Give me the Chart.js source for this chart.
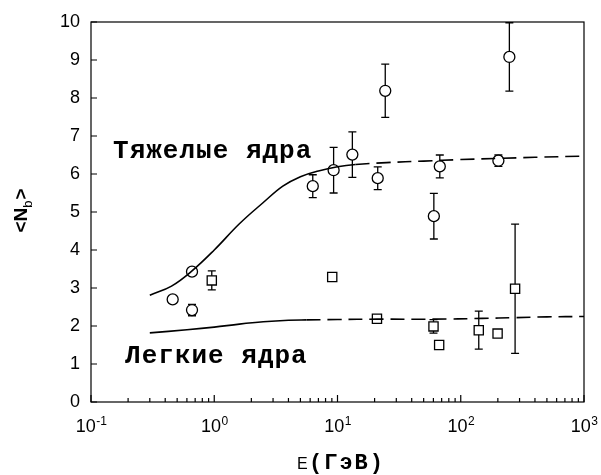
<!DOCTYPE html>
<html>
<head>
<meta charset="utf-8">
<script src="https://cdn.jsdelivr.net/npm/chart.js@4.4.0/dist/chart.umd.min.js"></script>
<style>
  html, body { margin: 0; padding: 0; background: #fff; }
  #wrap { width: 601px; height: 475px; }
</style>
</head>
<body>
<div id="wrap"><canvas id="chart"></canvas></div>
<script>
// Heavy nuclei data (circles)
const heavyE = [0.46, 0.66, 0.66, 6.3, 9.3, 13.2, 21.2, 24.4, 60.5, 67.6, 202, 248];
const heavyN = [2.7, 3.43, 2.42, 5.68, 6.1, 6.51, 5.89, 8.19, 4.89, 6.2, 6.35, 9.08];
const heavyErr = [0, 0, 0.15, 0.3, 0.6, 0.6, 0.3, 0.7, 0.6, 0.3, 0.15, 0.9];

// Light nuclei data (squares)
const lightE = [0.955, 9.06, 20.9, 60.1, 66.8, 140, 199, 276];
const lightN = [3.2, 3.29, 2.19, 1.99, 1.5, 1.89, 1.8, 2.98];
const lightErr = [0.25, 0, 0, 0.18, 0, 0.5, 0, 1.7];

// Model curves
const heavyCurveE = [0.3, 0.45, 0.66, 1.0, 1.6, 2.5, 3.6, 5.0, 7, 10, 14, 25, 50, 100, 200, 400, 1000];
const heavyCurveN = [2.81, 3.05, 3.45, 4.0, 4.69, 5.25, 5.68, 5.93, 6.08, 6.19, 6.25, 6.3, 6.34, 6.38, 6.41, 6.44, 6.47];
const lightCurveE = [0.3, 0.6, 1.0, 1.6, 2.5, 4, 5.6, 10, 21, 60, 150, 276, 500, 1000];
const lightCurveN = [1.82, 1.9, 1.97, 2.05, 2.11, 2.15, 2.16, 2.17, 2.18, 2.18, 2.2, 2.22, 2.24, 2.25];
const heavyDashFrom = 14;
const lightDashFrom = 5.6;

// Axes
const xMajorTicks = [0.1, 1, 10, 100, 1000];
const xTickExps = ['-1', '0', '1', '2', '3'];
const yTicks = [0, 1, 2, 3, 4, 5, 6, 7, 8, 9, 10];

// Text labels anchored in data coordinates
const heavyLabel = { text: 'Тяжелые ядра', e: 0.151, n: 6.42 };
const lightLabel = { text: 'Легкие ядра', e: 0.189, n: 1.03 };

const toXY = (xs, ys) => xs.map((x, i) => ({ x: x, y: ys[i] }));

const errorBars = {
  id: 'errorBars',
  beforeDatasetsDraw(chart) {
    const { ctx, chartArea, scales: { x, y } } = chart;
    ctx.save();
    ctx.beginPath();
    ctx.rect(chartArea.left, chartArea.top, chartArea.right - chartArea.left, chartArea.bottom - chartArea.top);
    ctx.clip();
    ctx.strokeStyle = '#000';
    ctx.lineWidth = 1.3;
    const draw = (es, ns, errs) => {
      es.forEach((e, i) => {
        if (!errs[i]) return;
        const px = x.getPixelForValue(e);
        const top = y.getPixelForValue(ns[i] + errs[i]);
        const bot = y.getPixelForValue(ns[i] - errs[i]);
        ctx.beginPath();
        ctx.moveTo(px, top); ctx.lineTo(px, bot);
        ctx.moveTo(px - 4, top); ctx.lineTo(px + 4, top);
        ctx.moveTo(px - 4, bot); ctx.lineTo(px + 4, bot);
        ctx.stroke();
      });
    };
    draw(heavyE, heavyN, heavyErr);
    draw(lightE, lightN, lightErr);
    ctx.restore();
  }
};

const frame = {
  id: 'frame',
  afterDraw(chart) {
    const { ctx, chartArea: a, scales: { x, y } } = chart;
    ctx.save();
    ctx.strokeStyle = '#000';
    ctx.lineWidth = 1.2;
    ctx.strokeRect(a.left, a.top, a.right - a.left, a.bottom - a.top);

    // inward ticks
    ctx.beginPath();
    yTicks.forEach(v => {
      const py = y.getPixelForValue(v);
      ctx.moveTo(a.left, py); ctx.lineTo(a.left + 6, py);
    });
    xMajorTicks.forEach((v, k) => {
      const px = x.getPixelForValue(v);
      ctx.moveTo(px, a.bottom); ctx.lineTo(px, a.bottom - 7);
      if (k < xMajorTicks.length - 1) {
        for (let m = 2; m <= 9; m++) {
          const mx = x.getPixelForValue(v * m);
          ctx.moveTo(mx, a.bottom); ctx.lineTo(mx, a.bottom - 4);
        }
      }
    });
    ctx.stroke();

    // x tick labels with superscripts
    ctx.fillStyle = '#000';
    ctx.textBaseline = 'alphabetic';
    xMajorTicks.forEach((v, k) => {
      const px = x.getPixelForValue(v);
      ctx.font = '18px "Liberation Sans", Arial, sans-serif';
      const wb = ctx.measureText('10').width;
      ctx.font = '12px "Liberation Sans", Arial, sans-serif';
      const we = ctx.measureText(xTickExps[k]).width;
      const left = px - (wb + we) / 2;
      ctx.font = '18px "Liberation Sans", Arial, sans-serif';
      ctx.textAlign = 'left';
      ctx.fillText('10', left, a.bottom + 30);
      ctx.font = '12px "Liberation Sans", Arial, sans-serif';
      ctx.fillText(xTickExps[k], left + wb + 0.5, a.bottom + 23);
    });

    // x axis title
    ctx.textAlign = 'left';
    ctx.font = '16px "Liberation Sans", Arial, sans-serif';
    ctx.fillText('E', 297, a.bottom + 67);
    ctx.font = 'bold 22px "Liberation Mono", "Courier New", monospace';
    ctx.letterSpacing = '2px';
    ctx.fillText('(ГэВ)', 309, a.bottom + 67);
    ctx.letterSpacing = '0px';

    // y axis title, rotated
    ctx.save();
    ctx.translate(27, 211);
    ctx.rotate(-Math.PI / 2);
    ctx.font = 'bold 19px "Liberation Sans", Arial, sans-serif';
    const w1 = ctx.measureText('<N').width;
    ctx.font = '13px "Liberation Sans", Arial, sans-serif';
    const w2 = ctx.measureText('b').width;
    ctx.font = 'bold 19px "Liberation Sans", Arial, sans-serif';
    const w3 = ctx.measureText('>').width;
    let sx = -(w1 + w2 + w3) / 2;
    ctx.fillText('<N', sx, 0);
    ctx.font = '13px "Liberation Sans", Arial, sans-serif';
    ctx.fillText('b', sx + w1, 5);
    ctx.font = 'bold 19px "Liberation Sans", Arial, sans-serif';
    ctx.fillText('>', sx + w1 + w2 + 1, 0);
    ctx.restore();

    // curve labels
    ctx.font = 'bold 26px "Liberation Mono", "Courier New", monospace';
    ctx.letterSpacing = '1px';
    [heavyLabel, lightLabel].forEach(l => {
      ctx.fillText(l.text, x.getPixelForValue(l.e), y.getPixelForValue(l.n));
    });
    ctx.restore();
  }
};

new Chart(document.getElementById('chart'), {
  type: 'scatter',
  data: {
    datasets: [
      {
        label: 'heavy curve',
        data: toXY(heavyCurveE, heavyCurveN),
        showLine: true,
        borderColor: '#000',
        borderWidth: 1.6,
        pointRadius: 0,
        tension: 0.4,
        segment: { borderDash: c => c.p0.parsed.x >= heavyDashFrom ? [14, 7] : undefined }
      },
      {
        label: 'light curve',
        data: toXY(lightCurveE, lightCurveN),
        showLine: true,
        borderColor: '#000',
        borderWidth: 1.6,
        pointRadius: 0,
        tension: 0.4,
        segment: { borderDash: c => c.p0.parsed.x >= lightDashFrom ? [14, 7] : undefined }
      },
      {
        label: 'Тяжелые ядра',
        data: toXY(heavyE, heavyN),
        pointStyle: 'circle',
        pointRadius: 5.5,
        backgroundColor: '#fff',
        borderColor: '#000',
        borderWidth: 1.3
      },
      {
        label: 'Легкие ядра',
        data: toXY(lightE, lightN),
        pointStyle: 'rect',
        pointRadius: 6.5,
        backgroundColor: '#fff',
        borderColor: '#000',
        borderWidth: 1.3
      }
    ]
  },
  options: {
    responsive: true,
    maintainAspectRatio: false,
    animation: false,
    layout: { padding: { top: 22, right: 17, left: 0, bottom: 0 } },
    plugins: {
      legend: { display: false },
      tooltip: { enabled: false }
    },
    scales: {
      x: {
        type: 'logarithmic',
        min: 0.1,
        max: 1000,
        grid: { display: false, drawTicks: false },
        border: { display: false },
        ticks: { display: false },
        afterFit: s => { s.height = 73; }
      },
      y: {
        min: 0,
        max: 10,
        grid: { display: false, drawTicks: false },
        border: { display: false },
        ticks: {
          stepSize: 1,
          padding: 11,
          color: '#000',
          font: { family: '"Liberation Sans", Arial, sans-serif', size: 18 }
        },
        afterFit: s => { s.width = 91; }
      }
    }
  },
  plugins: [errorBars, frame]
});
</script>
</body>
</html>
